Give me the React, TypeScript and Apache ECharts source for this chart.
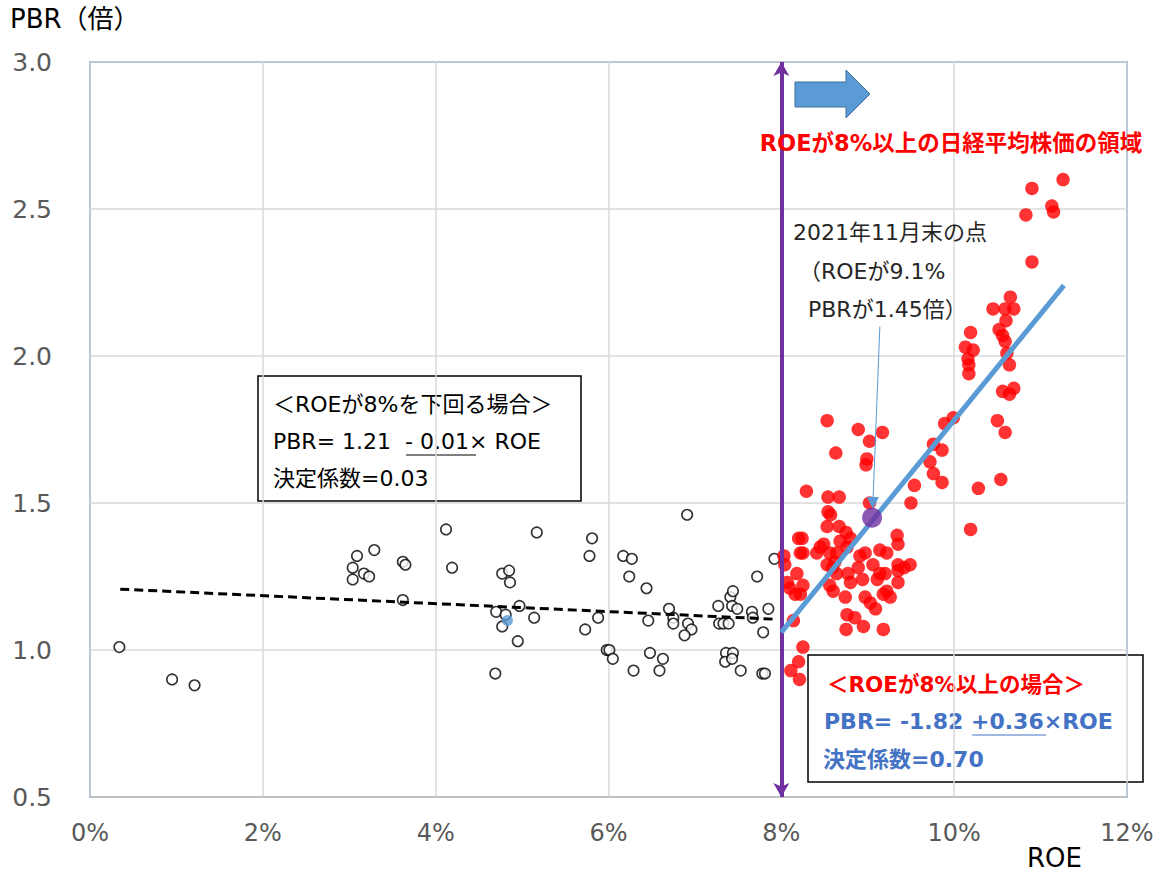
import React, { useEffect, useRef } from "react";
import * as echarts from "echarts";

const xTicks = [0, 2, 4, 6, 8, 10, 12];
const yTicks = [0.5, 1.0, 1.5, 2.0, 2.5, 3.0];

// ROE(%) , PBR  — ROE below 8%
const lowPoints: number[][] = [
  [0.34, 1.01], [0.95, 0.9], [1.21, 0.88], [3.29, 1.34], [3.09, 1.32], [3.04, 1.28], [3.17, 1.26],
  [3.23, 1.25], [3.04, 1.24], [3.62, 1.3], [3.65, 1.29], [3.62, 1.17], [4.12, 1.41], [4.19, 1.28],
  [5.17, 1.4], [4.77, 1.26], [4.85, 1.27], [4.86, 1.23], [4.7, 1.13], [4.81, 1.12], [4.97, 1.15],
  [4.77, 1.08], [5.14, 1.11], [4.95, 1.03], [4.69, 0.92], [5.81, 1.38], [5.78, 1.32], [5.73, 1.07],
  [5.88, 1.11], [5.98, 1.0], [6.01, 1.0], [6.05, 0.97], [6.17, 1.32], [6.27, 1.31], [6.24, 1.25],
  [6.44, 1.21], [6.46, 1.1], [6.48, 0.99], [6.29, 0.93], [6.59, 0.93], [6.63, 0.97], [6.7, 1.14],
  [6.75, 1.11], [6.75, 1.09], [6.91, 1.46], [6.92, 1.09], [6.96, 1.07], [6.88, 1.05], [7.27, 1.15],
  [7.28, 1.09], [7.33, 1.09], [7.39, 1.09], [7.41, 1.18], [7.44, 1.2], [7.43, 1.15], [7.49, 1.14],
  [7.36, 0.99], [7.44, 0.99], [7.35, 0.96], [7.43, 0.97], [7.53, 0.93], [7.72, 1.25], [7.66, 1.13],
  [7.67, 1.11], [7.79, 1.06], [7.85, 1.14], [7.92, 1.31], [7.78, 0.92], [7.81, 0.92],
];

const bluePoint: number[][] = [[4.83, 1.1]];

// ROE 8% and above
const highPoints: number[][] = [
  [8.53, 1.78], [8.89, 1.75], [9.17, 1.74], [9.02, 1.71], [8.63, 1.67], [8.99, 1.65], [8.98, 1.63],
  [8.29, 1.54], [8.54, 1.52], [8.67, 1.52], [9.02, 1.5], [8.54, 1.47], [8.57, 1.46], [8.53, 1.42],
  [8.67, 1.42], [8.75, 1.4], [8.8, 1.38], [8.2, 1.38], [8.24, 1.38], [8.68, 1.37], [8.45, 1.35],
  [8.49, 1.36], [8.76, 1.35], [8.22, 1.33], [8.25, 1.33], [8.41, 1.33], [8.56, 1.33], [8.64, 1.33],
  [9.14, 1.34], [9.22, 1.33], [9.34, 1.39], [9.35, 1.36], [8.03, 1.32], [8.04, 1.29], [8.53, 1.29],
  [8.62, 1.3], [8.91, 1.32], [8.97, 1.33], [9.06, 1.29], [9.35, 1.29], [9.49, 1.29], [8.59, 1.28],
  [8.64, 1.26], [8.77, 1.26], [8.89, 1.28], [9.14, 1.26], [9.2, 1.26], [9.35, 1.27], [9.42, 1.28],
  [8.18, 1.26], [8.8, 1.23], [8.94, 1.24], [9.11, 1.24], [8.07, 1.23], [8.1, 1.21], [8.25, 1.22],
  [8.22, 1.19], [8.16, 1.19], [8.56, 1.22], [8.6, 1.2], [9.35, 1.23], [9.22, 1.2], [9.18, 1.19],
  [9.26, 1.18], [8.74, 1.18], [8.97, 1.18], [9.03, 1.16], [9.09, 1.14], [8.76, 1.12], [8.85, 1.11],
  [8.95, 1.08], [8.75, 1.07], [9.18, 1.07], [8.14, 1.1], [8.25, 1.01], [8.2, 0.96], [8.11, 0.93],
  [8.21, 0.9], [11.26, 2.6], [10.9, 2.57], [11.13, 2.51], [11.15, 2.49], [10.83, 2.48], [10.9, 2.32],
  [10.65, 2.2], [10.45, 2.16], [10.59, 2.16], [10.69, 2.16], [10.6, 2.12], [10.52, 2.09], [10.56, 2.07],
  [10.59, 2.05], [10.61, 2.01], [10.64, 1.97], [10.19, 2.08], [10.13, 2.03], [10.22, 2.02], [10.16, 1.99],
  [10.17, 1.97], [10.17, 1.94], [10.56, 1.88], [10.69, 1.89], [10.64, 1.87], [10.5, 1.78], [10.59, 1.74],
  [9.99, 1.79], [9.89, 1.77], [9.76, 1.7], [9.86, 1.68], [9.72, 1.64], [9.76, 1.6], [9.86, 1.57],
  [10.28, 1.55], [10.54, 1.58], [9.54, 1.56], [9.5, 1.5], [10.19, 1.41],
];

const latestPoint: number[][] = [[9.05, 1.45]];

const lowTrend: number[][] = [[0.35, 1.207], [7.9, 1.105]];
const highTrend: number[][] = [[8.0, 1.06], [11.27, 2.24]];

const FONT = "'DejaVu Sans', 'Noto Sans CJK JP', sans-serif";

export default function App() {
  const ref = useRef<HTMLDivElement>(null);
  useEffect(() => {
    if (!ref.current) return;
    const chart = echarts.init(ref.current, null, { renderer: "svg" });
    const option: any = {
      animation: false,
      backgroundColor: "#ffffff",
      textStyle: { fontFamily: FONT },
      grid: {
        left: 90, top: 62, right: 31, bottom: 76,
        show: true, borderColor: "#4472C4", borderWidth: 1.5, backgroundColor: "transparent",
      },
      xAxis: {
        type: "value", min: 0, max: 12, interval: 2,
        axisLine: { show: true, lineStyle: { color: "#bfbfbf", width: 1.5 } },
        axisTick: { show: false },
        splitLine: { show: true, lineStyle: { color: "#d9d9d9", width: 1.5 } },
        axisLabel: { formatter: "{value}%", color: "#595959", fontSize: 24, margin: 24, fontFamily: FONT },
      },
      yAxis: {
        type: "value", min: 0.5, max: 3.0, interval: 0.5,
        axisLine: { show: false },
        axisTick: { show: false },
        splitLine: { show: true, lineStyle: { color: "#d9d9d9", width: 1.5 } },
        axisLabel: { formatter: (v: number) => v.toFixed(1), color: "#595959", fontSize: 25, margin: 38, fontFamily: FONT },
      },
      series: [
        {
          type: "scatter", data: lowPoints, symbol: "circle", symbolSize: 10.5,
          itemStyle: { color: "#ffffff", borderColor: "#000000", borderWidth: 1.6 },
          z: 3,
        },
        {
          type: "line", data: lowTrend, showSymbol: false, symbol: "none",
          lineStyle: { color: "#000000", width: 3, type: [9, 5] }, z: 4,
        },
        {
          type: "scatter", data: bluePoint, symbolSize: 11,
          itemStyle: { color: "#5B9BD5" }, z: 5,
        },
        {
          type: "scatter", data: highPoints, symbolSize: 13.5,
          itemStyle: { color: "#FF0000" }, z: 3,
        },
        {
          type: "line", data: highTrend, showSymbol: false, symbol: "none",
          lineStyle: { color: "#5B9BD5", width: 5 }, z: 5,
          markLine: {
            silent: true, animation: false,
            label: { show: false },
            data: [
              [
                { coord: [8, 0.5], symbol: "arrow", symbolSize: [12, 14], lineStyle: { color: "#7030A0", width: 4, type: "solid" }, itemStyle: { color: "#7030A0" } },
                { coord: [8, 3.0], symbol: "arrow", symbolSize: [12, 14] },
              ],
              [
                { coord: [9.14, 2.1], symbol: "none", lineStyle: { color: "#5B9BD5", width: 1, type: "solid" }, itemStyle: { color: "#5B9BD5" } },
                { coord: [9.06, 1.5], symbol: "triangle", symbolSize: [12, 12], symbolRotate: 180 },
              ],
            ],
          },
        },
        {
          type: "scatter", data: latestPoint, symbolSize: 20,
          itemStyle: { color: "#7030A0" }, z: 8,
        },
      ],
      graphic: [
        { type: "text", left: 10, top: 6, style: { text: "PBR（倍）", fill: "#000", font: `26px ${FONT}` } },
        { type: "text", left: 1027, top: 845, style: { text: "ROE", fill: "#000", font: `26px ${FONT}` } },
        {
          type: "polygon", z: 10,
          shape: { points: [[795, 82], [846, 82], [846, 70], [870, 94], [846, 118], [846, 107], [795, 107]] },
          style: { fill: "#5B9BD5", stroke: "#41719C", lineWidth: 1 },
        },
        {
          type: "text", x: 951, y: 143, z: 10,
          style: { text: "ROEが8%以上の日経平均株価の領域", fill: "#FF0000", font: `bold 22.5px ${FONT}`, align: "center", verticalAlign: "middle" },
        },
        { type: "text", x: 793, y: 232, z: 10, style: { text: "2021年11月末の点", fill: "#262626", font: `22px ${FONT}`, verticalAlign: "middle" } },
        { type: "text", x: 799, y: 271, z: 10, style: { text: "（ROEが9.1%", fill: "#262626", font: `22px ${FONT}`, verticalAlign: "middle" } },
        { type: "text", x: 808, y: 309, z: 10, style: { text: "PBRが1.45倍）", fill: "#262626", font: `22px ${FONT}`, verticalAlign: "middle" } },
        {
          type: "group", z: 10,
          children: [
            { type: "rect", shape: { x: 258, y: 376, width: 323, height: 125 }, style: { fill: "#ffffff", stroke: "#000000", lineWidth: 1.5 } },
            { type: "text", x: 273, y: 404, style: { text: "＜ROEが8%を下回る場合＞", fill: "#000", font: `22px ${FONT}`, verticalAlign: "middle" } },
            { type: "text", x: 273, y: 441, style: { text: "PBR= 1.21  - 0.01× ROE", fill: "#000", font: `22px ${FONT}`, verticalAlign: "middle" } },
            { type: "line", shape: { x1: 406, y1: 455, x2: 476, y2: 455 }, style: { stroke: "#000", lineWidth: 1 } },
            { type: "text", x: 273, y: 478, style: { text: "決定係数=0.03", fill: "#000", font: `22px ${FONT}`, verticalAlign: "middle" } },
          ],
        },
        {
          type: "group", z: 10,
          children: [
            { type: "rect", shape: { x: 808, y: 655, width: 335, height: 127 }, style: { fill: "#ffffff", stroke: "#000000", lineWidth: 1.5 } },
            { type: "text", x: 827, y: 684, style: { text: "＜ROEが8%以上の場合＞", fill: "#FF0000", font: `bold 21.5px ${FONT}`, verticalAlign: "middle" } },
            { type: "text", x: 824, y: 721, style: { text: "PBR= -1.82 +0.36×ROE", fill: "#4472C4", font: `bold 22px ${FONT}`, verticalAlign: "middle" } },
            { type: "line", shape: { x1: 972, y1: 735, x2: 1046, y2: 735 }, style: { stroke: "#4472C4", lineWidth: 1 } },
            { type: "text", x: 823, y: 759, style: { text: "決定係数=0.70", fill: "#4472C4", font: `bold 22px ${FONT}`, verticalAlign: "middle" } },
          ],
        },
      ],
    };
    chart.setOption(option);
    return () => chart.dispose();
  }, []);
  return (
    <div
      ref={ref}
      style={{ position: "fixed", left: 0, top: 0, width: 1158, height: 873, background: "#fff" }}
    />
  );
}
